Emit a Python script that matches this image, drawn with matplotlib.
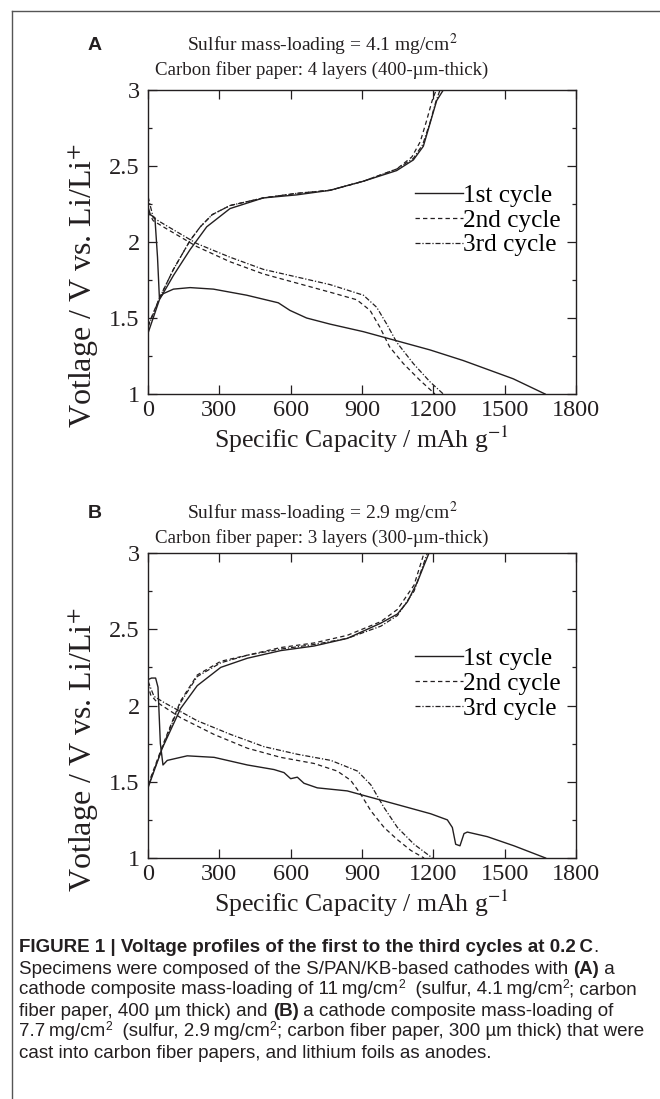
import matplotlib
matplotlib.use('Agg')
import matplotlib.pyplot as plt
from matplotlib import font_manager
from matplotlib.ticker import MultipleLocator
from matplotlib.lines import Line2D

# ---- panel A : 4.1 mg/cm2, 4 layers ----
a1_dis_x = [0, 10, 29, 40, 48, 64, 107, 177, 275, 415, 548, 597, 667, 765, 906, 1046, 1186, 1326, 1466, 1536, 1670]
a1_dis_v = [2.23, 2.18, 2.16, 1.9, 1.63, 1.66, 1.69, 1.70, 1.69, 1.65, 1.60, 1.55, 1.50, 1.46, 1.41, 1.35, 1.29, 1.22, 1.14, 1.10, 1.00]
a1_chg_x = [0, 48, 107, 177, 247, 345, 485, 625, 765, 906, 1046, 1116, 1158, 1186, 1214, 1242]
a1_chg_v = [1.40, 1.62, 1.78, 1.95, 2.10, 2.22, 2.29, 2.31, 2.34, 2.40, 2.47, 2.54, 2.63, 2.78, 2.93, 3.00]
a2_dis_x = [0, 22, 64, 205, 345, 485, 625, 765, 878, 934, 975, 1016, 1074, 1144, 1193, 1207]
a2_dis_v = [2.20, 2.14, 2.10, 1.97, 1.87, 1.79, 1.73, 1.67, 1.62, 1.55, 1.44, 1.31, 1.20, 1.09, 1.02, 1.00]
a2_chg_x = [0, 48, 107, 177, 220, 270, 345, 485, 625, 765, 906, 1046, 1110, 1145, 1172, 1195, 1212]
a2_chg_v = [1.45, 1.63, 1.82, 2.01, 2.10, 2.18, 2.24, 2.29, 2.32, 2.34, 2.40, 2.48, 2.56, 2.66, 2.80, 2.93, 3.00]
a3_dis_x = [0, 22, 64, 205, 345, 485, 625, 765, 906, 962, 1004, 1046, 1116, 1186, 1242]
a3_dis_v = [2.30, 2.16, 2.12, 1.99, 1.90, 1.82, 1.77, 1.72, 1.65, 1.57, 1.46, 1.34, 1.20, 1.08, 1.00]
a3_chg_x = [0, 48, 107, 177, 220, 270, 345, 485, 625, 765, 906, 1046, 1116, 1155, 1185, 1210, 1228]
a3_chg_v = [1.44, 1.63, 1.82, 2.01, 2.10, 2.18, 2.24, 2.29, 2.32, 2.34, 2.40, 2.48, 2.55, 2.64, 2.78, 2.92, 3.00]

# ---- panel B : 2.9 mg/cm2, 3 layers ----
b1_dis_x = [0, 15, 32, 42, 52, 63, 81, 165, 278, 418, 530, 572, 600, 628, 656, 712, 838, 908, 1049, 1189, 1259, 1280, 1294, 1312, 1329, 1343, 1427, 1539, 1672]
b1_dis_v = [2.17, 2.18, 2.18, 2.12, 1.75, 1.61, 1.64, 1.67, 1.66, 1.61, 1.58, 1.56, 1.52, 1.53, 1.49, 1.46, 1.44, 1.41, 1.35, 1.29, 1.25, 1.20, 1.09, 1.08, 1.16, 1.17, 1.14, 1.08, 1.00]
b1_chg_x = [0, 60, 137, 207, 306, 418, 558, 698, 838, 979, 1049, 1091, 1133, 1161, 1182]
b1_chg_v = [1.46, 1.72, 1.98, 2.13, 2.25, 2.31, 2.36, 2.39, 2.44, 2.54, 2.60, 2.68, 2.81, 2.92, 3.00]
b2_dis_x = [0, 11, 39, 137, 278, 418, 558, 698, 796, 852, 894, 937, 993, 1049, 1105, 1161]
b2_dis_v = [2.14, 2.07, 2.02, 1.92, 1.81, 1.72, 1.66, 1.62, 1.57, 1.51, 1.42, 1.31, 1.20, 1.12, 1.05, 1.00]
b2_chg_x = [0, 67, 137, 207, 306, 418, 558, 698, 838, 979, 1049, 1119, 1161]
b2_chg_v = [1.48, 1.76, 2.03, 2.20, 2.29, 2.33, 2.38, 2.41, 2.46, 2.55, 2.63, 2.79, 3.00]
b3_dis_x = [0, 25, 67, 207, 348, 488, 629, 769, 881, 937, 993, 1049, 1119, 1196]
b3_dis_v = [2.16, 2.06, 2.02, 1.90, 1.81, 1.73, 1.68, 1.64, 1.57, 1.48, 1.33, 1.20, 1.09, 1.00]
b3_chg_x = [0, 67, 137, 207, 306, 418, 558, 698, 838, 979, 1049, 1119, 1175]
b3_chg_v = [1.47, 1.75, 2.02, 2.19, 2.28, 2.33, 2.37, 2.40, 2.44, 2.52, 2.59, 2.75, 3.00]

cycle_labels = ['1st cycle', '2nd cycle', '3rd cycle']
x_ticks = [0, 300, 600, 900, 1200, 1500, 1800]
y_ticks = [1, 1.5, 2, 2.5, 3]

plt.rcParams['font.family'] = 'Liberation Serif'
plt.rcParams['mathtext.fontset'] = 'stix'

ink = '#231f20'
styles = [dict(ls='-', lw=1.0),
          dict(ls=(0, (3.5, 2.5)), lw=0.9),
          dict(ls=(0, (4, 1.5, 1, 1.5)), lw=0.9)]

W, H = 660, 1099
fig = plt.figure(figsize=(W / 100, H / 100), dpi=100)


def fx(px):
    return px / W


def fy(py):
    return 1 - py / H


def panel(top, bottom, curves, tag, title1, title2, ty):
    ax = fig.add_axes([fx(148), fy(bottom), fx(576) - fx(148), fy(top) - fy(bottom)])
    for k, (dx, dv, cx, cv) in enumerate(curves):
        ax.plot(dx, dv, color=ink, **styles[k])
        ax.plot(cx, cv, color=ink, **styles[k])
    ax.set_xlim(0, 1800)
    ax.set_ylim(1, 3)
    ax.set_xticks(x_ticks)
    ax.set_xticklabels([str(t) for t in x_ticks])
    ax.set_yticks(y_ticks)
    ax.set_yticklabels(['1', '1.5', '2', '2.5', '3'])
    ax.yaxis.set_minor_locator(MultipleLocator(0.25))
    ax.tick_params(which='both', direction='in', top=True, right=True,
                   labelsize=17.5, colors=ink, width=0.9)
    ax.tick_params(which='major', length=6.5, pad=4)
    ax.tick_params(which='minor', length=3)
    ax.tick_params(axis='y', pad=6)
    for s in ax.spines.values():
        s.set_linewidth(1.0)
        s.set_color(ink)
    ax.set_xlabel('Specific Capacity / mAh g$^{\\mathrm{-1}}$', fontsize=18.5, color=ink, labelpad=2)
    ax.set_ylabel('Votlage / V vs. Li/Li$^{+}$', fontsize=23, color=ink)
    ax.yaxis.set_label_coords(-0.11, 0.355)
    handles = [Line2D([], [], color=ink, **styles[k]) for k in range(3)]
    ax.legend(handles, cycle_labels, loc='upper left', bbox_to_anchor=(0.624, 0.69),
              frameon=False, handlelength=1.9, handletextpad=0.0, labelspacing=0.08,
              borderpad=0, borderaxespad=0, prop={'family': 'Liberation Serif', 'size': 18.2})
    fig.text(fx(322), fy(ty), title1, ha='center', va='center', fontsize=14, color=ink)
    fig.text(fx(322), fy(ty + 25), title2, ha='center', va='center', fontsize=13.6, color=ink)
    fig.text(fx(95), fy(ty), tag, ha='center', va='center', fontsize=14,
             fontweight='bold', family='Liberation Sans', color=ink)
    return ax


panel(90, 394, [(a1_dis_x, a1_dis_v, a1_chg_x, a1_chg_v),
                (a2_dis_x, a2_dis_v, a2_chg_x, a2_chg_v),
                (a3_dis_x, a3_dis_v, a3_chg_x, a3_chg_v)],
      'A', 'Sulfur mass-loading = 4.1 mg/cm$^{\\mathrm{2}}$',
      'Carbon fiber paper: 4 layers (400-\u00b5m-thick)', 45)
panel(553, 858, [(b1_dis_x, b1_dis_v, b1_chg_x, b1_chg_v),
                 (b2_dis_x, b2_dis_v, b2_chg_x, b2_chg_v),
                 (b3_dis_x, b3_dis_v, b3_chg_x, b3_chg_v)],
      'B', 'Sulfur mass-loading = 2.9 mg/cm$^{\\mathrm{2}}$',
      'Carbon fiber paper: 3 layers (300-\u00b5m-thick)', 513)

# frame lines of the figure box
fig.add_artist(Line2D([fx(12), 1], [fy(11), fy(11)], color='#555555', lw=1.0))
fig.add_artist(Line2D([fx(12), fx(12)], [fy(11), 0], color='#555555', lw=1.0))

# ---- caption ----
names = {f.name for f in font_manager.fontManager.ttflist}
cap_font = 'Liberation Sans Narrow' if 'Liberation Sans Narrow' in names else 'Liberation Sans'
cap_size = 13.5
renderer = fig.canvas.get_renderer()

caption = [
    [('FIGURE 1 | Voltage profiles of the first to the third cycles at 0.2\u2009C', 'b'), ('.', 'n')],
    [('Specimens were composed of the S/PAN/KB-based cathodes with ', 'n'), ('(A)', 'b'), (' a', 'n')],
    [('cathode composite mass-loading of 11\u2009mg/cm', 'n'), ('2', 's'), ('  (sulfur, 4.1\u2009mg/cm', 'n'),
     ('2', 's'), ('; carbon', 'n')],
    [('fiber paper, 400 \u00b5m thick) and ', 'n'), ('(B)', 'b'), (' a cathode composite mass-loading of', 'n')],
    [('7.7\u2009mg/cm', 'n'), ('2', 's'), ('  (sulfur, 2.9\u2009mg/cm', 'n'), ('2', 's'),
     ('; carbon fiber paper, 300 \u00b5m thick) that were', 'n')],
    [('cast into carbon fiber papers, and lithium foils as anodes.', 'n')],
]
line_y = [948, 969, 990, 1011, 1032, 1053]
for parts, py in zip(caption, line_y):
    x = fx(19)
    for txt, kind in parts:
        if kind == 's':
            t = fig.text(x, fy(py - 5), txt, ha='left', va='center', fontsize=cap_size * 0.65,
                         family=[cap_font, 'DejaVu Sans'], color=ink)
        else:
            t = fig.text(x, fy(py), txt, ha='left', va='center', fontsize=cap_size,
                         family=[cap_font, 'DejaVu Sans'], color=ink,
                         fontweight='bold' if kind == 'b' else 'normal')
        x += t.get_window_extent(renderer).width / W

fig.savefig('out.png', dpi=100)
